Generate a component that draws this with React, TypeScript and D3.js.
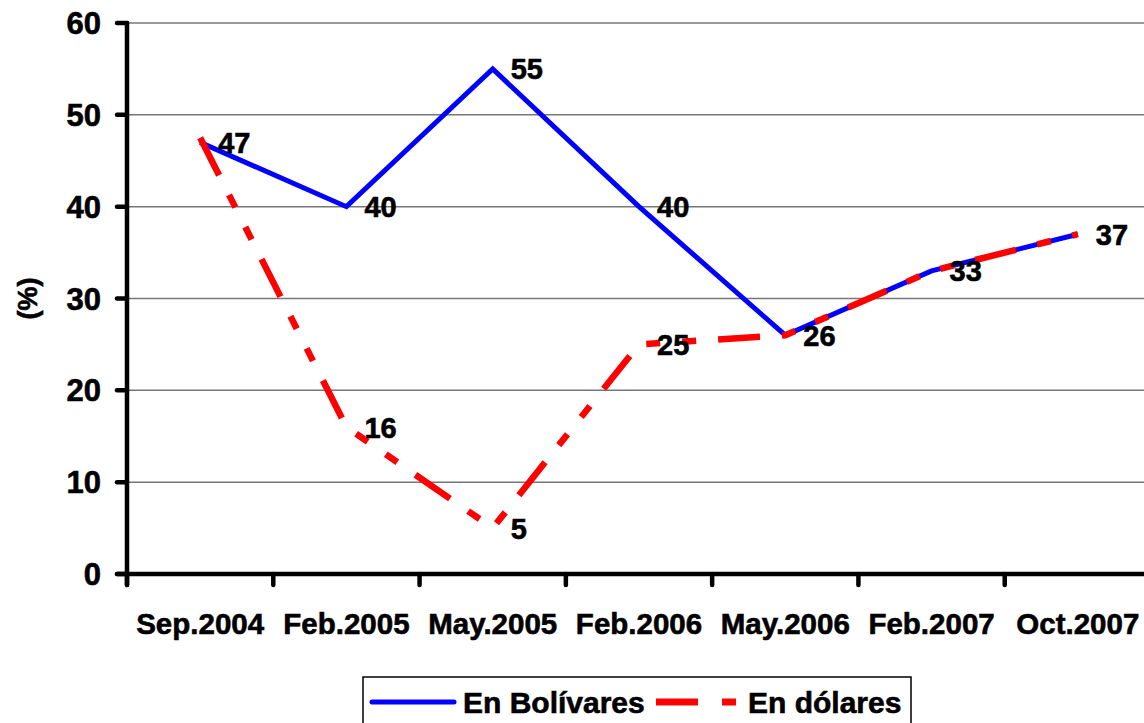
import React from 'react';
import * as d3 from 'd3';

const categories = ['Sep.2004', 'Feb.2005', 'May.2005', 'Feb.2006', 'May.2006', 'Feb.2007', 'Oct.2007'];
const bolivares = [47, 40, 55, 40, 26, 33, 37];
const dolares = [47.5, 16, 5, 25, 26, 33, 37];
const bolivaresLabels = ['47', '40', '55', '40', '26', '33', '37'];
const dolaresLabels = ['', '16', '5', '25', '', '', ''];
const yTicks = [0, 10, 20, 30, 40, 50, 60];

const W = 1144;
const H = 723;
const FONT = 'Liberation Sans, Arial, sans-serif';

export default function App() {
  const x = d3.scaleBand<string>().domain(categories).range([127, 1151]);
  const y = d3.scaleLinear().domain([0, 60]).range([574, 23]);
  const cx = (i: number) => (x(categories[i]) as number) + x.bandwidth() / 2;

  const mkLine = d3.line<number>().x((d, i) => cx(i)).y(d => y(d));

  const bounds = categories.map(c => x(c) as number).concat([x.range()[1]]);
  // slight outline makes the bold text as heavy as the original
  const txt = { fontWeight: 'bold' as const, stroke: '#000', strokeWidth: 0.6 };

  return (
    <svg width={W} height={H} style={{ position: 'absolute', left: 0, top: 0, background: '#fff' }} fontFamily={FONT}>
      {/* gridlines */}
      {yTicks.filter(t => t > 0).map(t => (
        <line key={t} x1={127} x2={W} y1={y(t)} y2={y(t)} stroke="#777" strokeWidth={1.5} />
      ))}

      {/* series */}
      <path d={mkLine(bolivares) || ''} fill="none" stroke="#0000ff" strokeWidth={5} strokeLinejoin="miter" />
      <path d={mkLine(dolares) || ''} fill="none" stroke="#ff0000" strokeWidth={6.5} strokeDasharray="42,22,14,22,14,22" />

      {/* y axis */}
      <line x1={127} x2={127} y1={y(60)} y2={585} stroke="#000" strokeWidth={4.5} strokeLinecap="round" />
      {yTicks.map(t => (
        <g key={t}>
          <line x1={117} x2={127} y1={y(t)} y2={y(t)} stroke="#000" strokeWidth={4.5} strokeLinecap="round" />
          <text x={101} y={y(t)} dy="0.36em" textAnchor="end" fontSize={31} {...txt}>{t}</text>
        </g>
      ))}
      <text transform={`translate(37,${y(30)}) rotate(-90)`} textAnchor="middle" fontSize={27} {...txt}>(%)</text>

      {/* x axis */}
      <line x1={117} x2={W + 10} y1={574} y2={574} stroke="#000" strokeWidth={4.5} strokeLinecap="round" />
      {bounds.map((b, i) => (
        <line key={i} x1={b} x2={b} y1={574} y2={585} stroke="#000" strokeWidth={4.5} strokeLinecap="round" />
      ))}
      {categories.map((c, i) => (
        <text key={c} x={cx(i)} y={634} textAnchor="middle" fontSize={29.5} {...txt}>{c}</text>
      ))}

      {/* data labels */}
      {bolivaresLabels.map((l, i) => l && (
        <text key={'b' + i} x={cx(i) + 18} y={y(bolivares[i])} dy="0.36em" fontSize={29} {...txt}>{l}</text>
      ))}
      {dolaresLabels.map((l, i) => l && (
        <text key={'d' + i} x={cx(i) + 18} y={y(dolares[i])} dy="0.36em" fontSize={29} {...txt}>{l}</text>
      ))}

      {/* legend */}
      <rect x={363} y={677} width={548} height={60} fill="#fff" stroke="#000" strokeWidth={1.5} />
      <line x1={372} x2={454} y1={702} y2={702} stroke="#0000ff" strokeWidth={5} strokeLinecap="round" />
      <text x={463} y={713} fontSize={30} {...txt}>En Bolívares</text>
      <line x1={656} x2={736} y1={702} y2={702} stroke="#ff0000" strokeWidth={7} strokeDasharray="42,24,14,40" />
      <text x={748} y={713} fontSize={30} {...txt}>En dólares</text>
    </svg>
  );
}
